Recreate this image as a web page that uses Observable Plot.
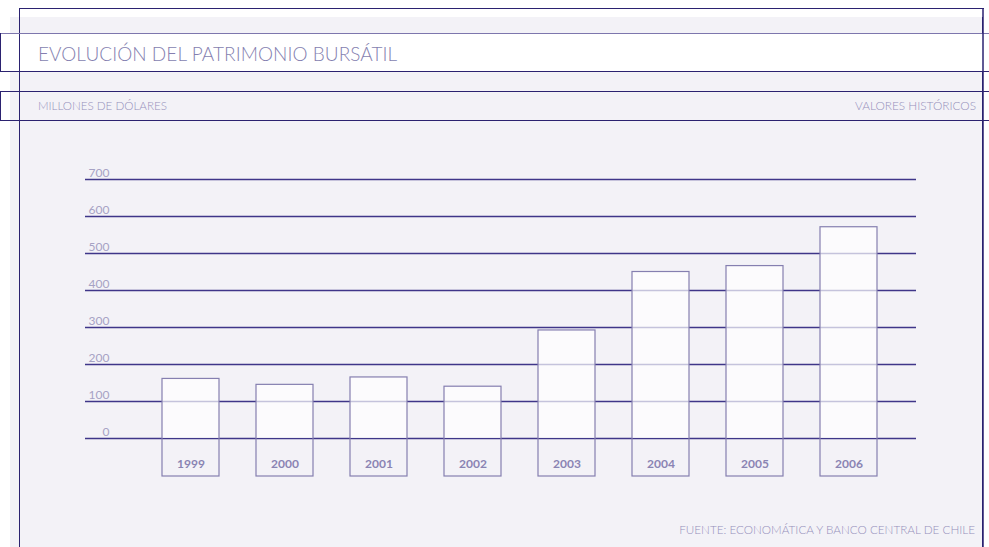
<!DOCTYPE html>
<html>
<head>
<meta charset="utf-8">
<script src="https://cdn.jsdelivr.net/npm/d3@7"></script>
<script src="https://cdn.jsdelivr.net/npm/@observablehq/plot@0.6"></script>
<style>
  html, body { margin: 0; padding: 0; background: #ffffff; overflow: hidden; }
  #page { position: relative; width: 989px; height: 547px; overflow: hidden; font-family: Lato, "Open Sans", sans-serif; }
  .abs { position: absolute; }
  .ln { position: absolute; background: #2b2270; z-index: 5; }
  .txt { position: absolute; white-space: nowrap; line-height: 1; z-index: 6; }
  #chart { position: absolute; left: 0; top: 0; width: 989px; height: 547px; z-index: 2; }
  #chart svg { display: block; }
  #frame { position: absolute; left: 0; top: 0; z-index: 10; pointer-events: none; }
</style>
</head>
<body>
<div id="page">
  <div class="abs" style="left:10px; top:17px; width:972px; height:530px; background:#f3f2f7; border-right:1.5px solid #2b2270;"></div>
  <div class="abs" style="left:0; top:33px; width:989px; height:39px; background:#ffffff;"></div>
  <!-- outer frame -->
  <div class="ln" style="left:19px; top:8px; width:965px; height:1.3px;"></div>
  <div class="ln" style="left:19px; top:8px; width:1.3px; height:539px;"></div>
  <!-- title band -->
  <div class="ln" style="left:0; top:33px; width:989px; height:1.3px; background:#7d76ad;"></div>
  <div class="ln" style="left:0; top:71px; width:989px; height:1.3px;"></div>
  <div class="ln" style="left:0; top:33px; width:1.3px; height:39px;"></div>
  <!-- subtitle band -->
  <div class="ln" style="left:0; top:91px; width:989px; height:1.3px;"></div>
  <div class="ln" style="left:0; top:120px; width:989px; height:1.3px;"></div>
  <div class="ln" style="left:0; top:91px; width:1.3px; height:30px;"></div>

  <div id="chart"></div>

  <svg id="frame" width="989" height="547" viewBox="0 0 989 547">
    <line x1="983" y1="8" x2="983" y2="547" stroke="#2b2270" stroke-width="1.5"></line>
  </svg>

  <div class="txt" id="title" style="left:38px; top:44px; font-size:19px; font-weight:300; letter-spacing:0.05px; color:#857fb0;">EVOLUCIÓN DEL PATRIMONIO BURSÁTIL</div>
  <div class="txt" id="sub" style="left:38px; top:100px; font-size:11.6px; font-weight:300; color:#9590bb;">MILLONES DE DÓLARES</div>
  <div class="txt" id="sub2" style="right:13px; top:100px; font-size:11.8px; font-weight:300; color:#9590bb;">VALORES HISTÓRICOS</div>
  <div class="txt" id="foot" style="right:14px; top:524px; font-size:11.7px; font-weight:300; color:#9590bb;">FUENTE: ECONOMÁTICA Y BANCO CENTRAL DE CHILE</div>
</div>
<script>
const years = ["1999", "2000", "2001", "2002", "2003", "2004", "2005", "2006"];
const values = [161, 145, 165, 140, 292, 450, 466, 571];
const yTicks = [0, 100, 200, 300, 400, 500, 600, 700];

const data = years.map((year, i) => ({year, value: values[i]}));

const chart = Plot.plot({
  width: 989,
  height: 547,
  marginLeft: 85,
  marginRight: 73,
  marginTop: 179,
  marginBottom: 109,
  style: {background: "transparent", fontFamily: "Lato, 'Open Sans', sans-serif", overflow: "visible"},
  x: {type: "band", domain: years, range: [160, 879], paddingInner: 0.397, paddingOuter: 0, axis: null},
  y: {domain: [0, 700], axis: null},
  marks: [
    Plot.ruleY(yTicks, {stroke: "#3f3689", strokeWidth: 1.3}),
    Plot.barY(data, {x: "year", y: "value", fill: "#ffffff", fillOpacity: 0.7}),
    Plot.barY(data, {x: "year", y: "value", fill: "none", stroke: "#857fb0", strokeWidth: 1.2, insetBottom: -38}),
    Plot.text(yTicks, {y: d => d, text: d => String(d), frameAnchor: "left", textAnchor: "end", lineAnchor: "bottom", dx: 24, dy: -3, fill: "#a6a2c4", fontSize: 12}),
    Plot.text(data, {x: "year", y: d => 0, dy: 26, text: "year", fill: "#8a84b3", fontWeight: "bold", fontSize: 12})
  ]
});
document.getElementById("chart").appendChild(chart);
</script>
</body>
</html>
